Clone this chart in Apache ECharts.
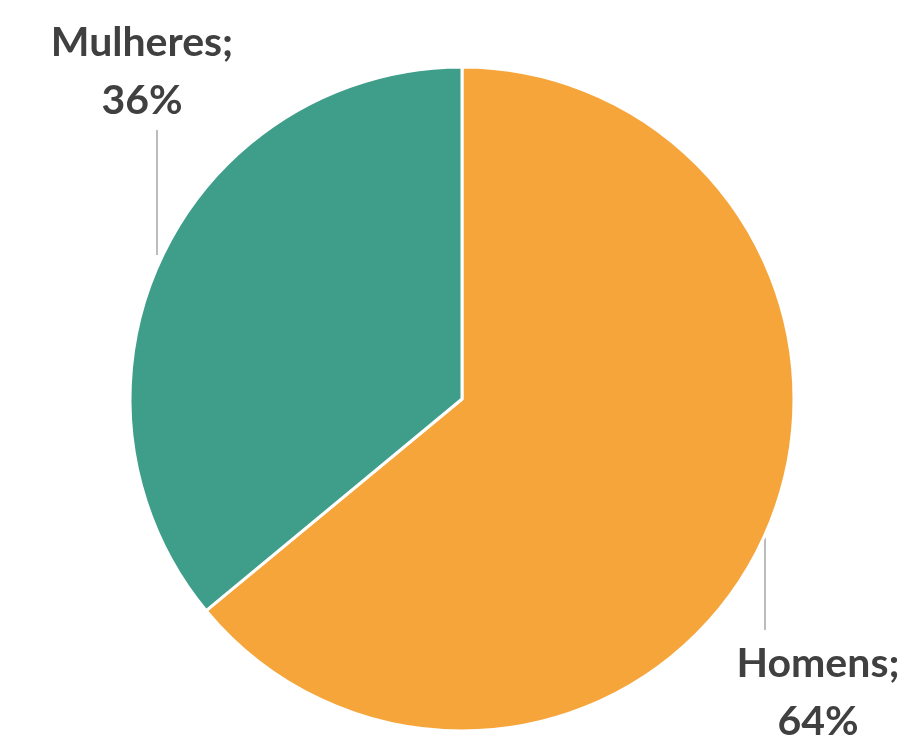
<!DOCTYPE html>
<html>
<head>
<meta charset="utf-8">
<script src="https://cdn.jsdelivr.net/npm/echarts@6/dist/echarts.min.js"></script>
<style>html,body{margin:0;padding:0;background:#fff;}#c{width:912px;height:737px;}</style>
</head>
<body>
<div id="c"></div>
<script>
const categories = ['Homens', 'Mulheres'];
const values = [64, 36];
const colors = ['#F6A53B', '#3F9E8A'];

const chart = echarts.init(document.getElementById('c'), null, {renderer: 'canvas'});
const labelPos = [
  {x: 818, y: 693, line: [[765, 538], [765, 630], [765, 630]]},
  {x: 142, y: 72, line: [[157, 255], [157, 130], [157, 130]]}
];
chart.setOption({
  animation: false,
  series: [{
    type: 'pie',
    center: [462, 399],
    radius: 332,
    startAngle: 90,
    clockwise: true,
    data: categories.map((c, i) => ({name: c, value: values[i], itemStyle: {color: colors[i]}})),
    itemStyle: {borderColor: '#fff', borderWidth: 3},
    label: {
      show: true,
      formatter: '{b};\n{c}%',
      fontFamily: 'Lato',
      fontWeight: 'bold',
      fontSize: 41,
      lineHeight: 58,
      color: '#404040',
      align: 'center',
      overflow: 'none',
      width: 300
    },
    labelLine: {show: true, lineStyle: {color: '#A6A6A6', width: 1.5}},
    labelLayout: function (p) {
      const L = labelPos[p.dataIndex];
      return {x: L.x, y: L.y, align: 'center', verticalAlign: 'middle', labelLinePoints: L.line};
    },
    emphasis: {disabled: true}
  }]
});
</script>
</body>
</html>
